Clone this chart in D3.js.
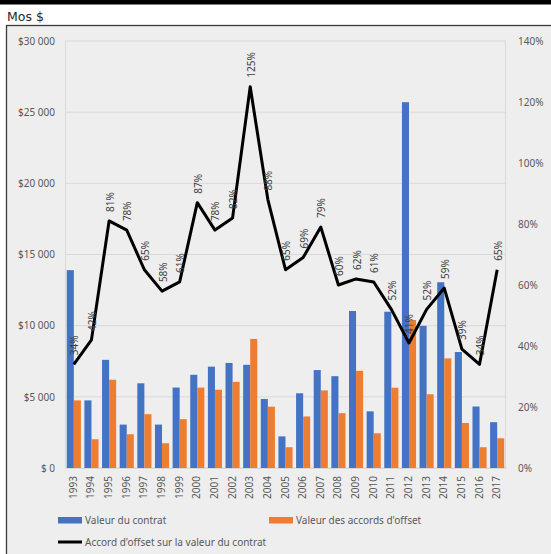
<!DOCTYPE html>
<html><head><meta charset="utf-8">
<script src="https://cdn.jsdelivr.net/npm/d3@7"></script>
<style>
html,body{margin:0;padding:0;background:#fff;}
svg{display:block;font-family:"Noto Sans",sans-serif;}
</style></head>
<body>
<svg id="chart" width="551" height="554"></svg>
<script>
const years = ["1993","1994","1995","1996","1997","1998","1999","2000","2001","2002","2003","2004","2005","2006","2007","2008","2009","2010","2011","2012","2013","2014","2015","2016","2017"];
const contractValues = [13900,4750,7600,3050,5950,3050,5650,6550,7120,7380,7250,4850,2220,5250,6880,6450,11030,3980,10980,25700,9990,13050,8150,4320,3220];
const offsetValues = [4750,2020,6200,2370,3780,1740,3430,5650,5500,6050,9070,4310,1460,3620,5450,3850,6830,2440,5640,10400,5180,7700,3160,1460,2090];
const offsetPct = [34,42,81,78,65,58,61,87,78,82,125,88,65,69,79,60,62,61,52,41,52,59,39,34,65];
const leftTicks = [0,5000,10000,15000,20000,25000,30000];
const leftTickLabels = ["$ 0","$5 000","$10 000","$15 000","$20 000","$25 000","$30 000"];
const rightTicks = [0,20,40,60,80,100,120,140];
const rightTickLabels = ["0%","20%","40%","60%","80%","100%","120%","140%"];
const seriesNames = ["Valeur du contrat","Valeur des accords d'offset","Accord d'offset sur la valeur du contrat"];
const yUnit = "Mos $";

const svg = d3.select("#chart");
const W = 551, H = 554;
const m = {left:65, right:506, top:41, bottom:468};
const blue = "#4472C4", orange = "#ED7D31";

// top black bar
svg.append("rect").attr("x",0).attr("y",0).attr("width",W).attr("height",4.5).attr("fill","#000");
svg.append("text").attr("x",7).attr("y",21).attr("font-size",12.5).attr("fill","#262626")
  .attr("font-family","DejaVu Sans, sans-serif").text(yUnit);

// chart box
svg.append("rect").attr("x",6.5).attr("y",25.5).attr("width",W).attr("height",H)
  .attr("fill","#eeeeee").attr("stroke","#3a3a3a").attr("stroke-width",1.3);

const x = d3.scaleBand().domain(years).range([m.left,m.right]).paddingInner(0).paddingOuter(0);
const x1 = d3.scaleBand().domain(["c","o"]).range([x.bandwidth()*0.1, x.bandwidth()*0.9]).padding(0);
const y = d3.scaleLinear().domain([0,30000]).range([m.bottom,m.top]);
const y2 = d3.scaleLinear().domain([0,140]).range([m.bottom,m.top]);

// grid
svg.append("g").selectAll("line").data(leftTicks).join("line")
  .attr("x1",m.left).attr("x2",m.right).attr("y1",d=>y(d)).attr("y2",d=>y(d))
  .attr("stroke","#d9d9d9").attr("stroke-width",1);
svg.append("line").attr("x1",m.left+0.5).attr("x2",m.left+0.5).attr("y1",m.top).attr("y2",m.bottom).attr("stroke","#d9d9d9");
svg.append("line").attr("x1",m.right-0.5).attr("x2",m.right-0.5).attr("y1",m.top).attr("y2",m.bottom).attr("stroke","#d9d9d9");

// left axis
const yAxis = d3.axisLeft(y).tickValues(leftTicks).tickSize(0).tickPadding(10)
  .tickFormat((d,i)=>leftTickLabels[i]);
const gL = svg.append("g").attr("transform",`translate(${m.left},0)`).call(yAxis);
gL.select(".domain").remove();
gL.selectAll("text").attr("font-size",10).attr("fill","#595959").attr("font-family","Noto Sans, sans-serif");

// right axis
const y2Axis = d3.axisRight(y2).tickValues(rightTicks).tickSize(0).tickPadding(12)
  .tickFormat((d,i)=>rightTickLabels[i]);
const gR = svg.append("g").attr("transform",`translate(${m.right},0)`).call(y2Axis);
gR.select(".domain").remove();
gR.selectAll("text").attr("font-size",10).attr("fill","#595959").attr("font-family","Noto Sans, sans-serif");

// bars
const data = years.map((yr,i)=>({yr, c:contractValues[i], o:offsetValues[i], p:offsetPct[i]}));
const g = svg.append("g");
g.selectAll("rect.c").data(data).join("rect").attr("class","c")
  .attr("x",d=>x(d.yr)+x1("c")).attr("width",x1.bandwidth())
  .attr("y",d=>y(d.c)).attr("height",d=>y(0)-y(d.c)).attr("fill",blue);
g.selectAll("rect.o").data(data).join("rect").attr("class","o")
  .attr("x",d=>x(d.yr)+x1("o")).attr("width",x1.bandwidth())
  .attr("y",d=>y(d.o)).attr("height",d=>y(0)-y(d.o)).attr("fill",orange);

// x axis
const xAxis = d3.axisBottom(x).tickSize(0).tickPadding(0);
const gX = svg.append("g").attr("transform",`translate(0,${m.bottom})`).call(xAxis);
gX.select(".domain").attr("stroke","#d9d9d9");
gX.selectAll("text").attr("font-size",10).attr("fill","#595959").attr("font-family","Noto Sans, sans-serif")
  .attr("transform","rotate(-90)").attr("text-anchor","end").attr("x",-8).attr("y",0).attr("dy","0.3em").attr("dx",0);

// line
const line = d3.line().x(d=>x(d.yr)+x.bandwidth()/2).y(d=>y2(d.p));
svg.append("path").datum(data).attr("d",line).attr("fill","none")
  .attr("stroke","#000").attr("stroke-width",3).attr("stroke-linejoin","round");

// data labels
svg.append("g").selectAll("text").data(data).join("text")
  .attr("transform",d=>`translate(${x(d.yr)+x.bandwidth()/2+1},${y2(d.p)-9}) rotate(-90)`)
  .attr("text-anchor","start").attr("dy","0.35em")
  .attr("font-size",10).attr("fill","#404040").attr("font-family","Noto Sans, sans-serif")
  .text(d=>d.p+"%");

// legend
const lg = svg.append("g").attr("font-family","Noto Sans, sans-serif").attr("font-size",10).attr("fill","#595959");
lg.append("rect").attr("x",58).attr("y",517).attr("width",24).attr("height",6.5).attr("fill",blue);
lg.append("text").attr("x",85).attr("y",523.5).text(seriesNames[0]);
lg.append("rect").attr("x",269).attr("y",517).attr("width",24).attr("height",6.5).attr("fill",orange);
lg.append("text").attr("x",296).attr("y",523.5).text(seriesNames[1]);
lg.append("line").attr("x1",58).attr("x2",82).attr("y1",542).attr("y2",542).attr("stroke","#000").attr("stroke-width",3);
lg.append("text").attr("x",85).attr("y",545.5).text(seriesNames[2]);
</script>
</body></html>
